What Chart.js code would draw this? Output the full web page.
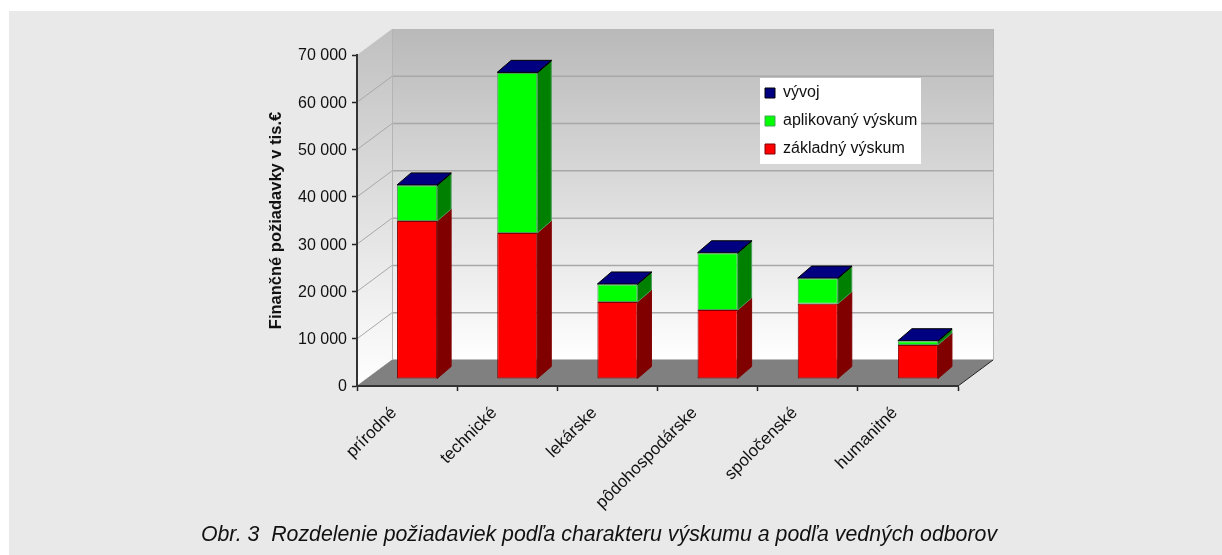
<!DOCTYPE html>
<html lang="sk">
<head>
<meta charset="utf-8">
<title>Rozdelenie požiadaviek</title>
<script src="https://cdn.jsdelivr.net/npm/chart.js@4"></script>
<style>
    html, body { margin: 0; padding: 0; background: #fff; overflow: hidden; }
    #panel { position: absolute; left: 9px; top: 11px; right: 0; bottom: 0; background: #e9e9e9; }
    #wrap { position: absolute; left: 0; top: 0; width: 1222px; height: 555px; }
</style>
</head>
<body>
<div id="panel"></div>
<div id="wrap"><canvas id="graf" width="1222" height="555"></canvas></div>
<script>
const odbory = ["prírodné", "technické", "lekárske", "pôdohospodárske", "spoločenské", "humanitné"];
const zakladny = [33400, 30900, 16300, 14600, 15900, 7200];
const aplikovany = [7500, 33800, 3700, 12000, 5350, 800];
const vyvoj = [150, 150, 100, 100, 100, 100];
const yTicks = [0, 10000, 20000, 30000, 40000, 50000, 60000, 70000];

const fontName = '"Liberation Sans", Arial, sans-serif';

// hlbka 3D sceny a stlpcov, v pixeloch
const wallDx = 35, wallDy = -26;
const barDx = 10, barDy = -7;
const sideDx = 14, sideDy = -12;

const sideColors = ["#800000", "#008000", "#000060"];

function poly(ctx, pts) {
    ctx.beginPath();
    pts.forEach((p, i) => i ? ctx.lineTo(p[0], p[1]) : ctx.moveTo(p[0], p[1]));
    ctx.closePath();
}

const scena3d = {
    id: "scena3d",
    afterLayout(chart) {
        // popisok je pod celym grafom, nie iba pod plochou osi
        const t = chart.titleBlock;
        t.left = 190;
        t.right = 1008;
        t.width = 818;
        // legenda v bielom ramceku
        const l = chart.legend;
        l.left = 753;
        l.right = 921;
        l.top = 73;
        l.bottom = 300;
    },
    beforeDraw(chart) {
        const { ctx, chartArea: a, scales } = chart;
        const top = a.top + wallDy, bottom = a.bottom + wallDy;

        const g = ctx.createLinearGradient(0, top, 0, bottom);
        g.addColorStop(0, "#b9b9b9");
        g.addColorStop(1, "#ffffff");
        ctx.fillStyle = g;
        ctx.fillRect(a.left + wallDx, top, a.width, a.height);

        const gs = ctx.createLinearGradient(0, top, 0, a.bottom);
        gs.addColorStop(0, "#c0c0c0");
        gs.addColorStop(1, "#ffffff");
        ctx.fillStyle = gs;
        poly(ctx, [[a.left, a.top], [a.left + wallDx, top], [a.left + wallDx, bottom], [a.left, a.bottom]]);
        ctx.fill();

        // mriezka po stene
        ctx.strokeStyle = "#a8a8a8";
        yTicks.forEach(v => {
            if (v === 70000) return;
            const y = scales.y.getPixelForValue(v);
            ctx.lineWidth = 1;
            ctx.beginPath();
            ctx.moveTo(a.left, y);
            ctx.lineTo(a.left + wallDx, y + wallDy);
            ctx.stroke();
            ctx.lineWidth = 1.5;
            ctx.beginPath();
            ctx.moveTo(a.left + wallDx, y + wallDy);
            ctx.lineTo(a.right + wallDx, y + wallDy);
            ctx.stroke();
        });
        ctx.lineWidth = 1;
        ctx.strokeStyle = "#b4b4b4";
        ctx.beginPath();
        ctx.moveTo(a.left + wallDx + 0.5, top);
        ctx.lineTo(a.left + wallDx + 0.5, bottom);
        ctx.moveTo(a.right + wallDx + 0.5, top);
        ctx.lineTo(a.right + wallDx + 0.5, bottom);
        ctx.stroke();

        // podlaha
        ctx.fillStyle = "#808080";
        poly(ctx, [[a.left, a.bottom], [a.left + wallDx, bottom], [a.right + wallDx, bottom], [a.right, a.bottom]]);
        ctx.fill();
        ctx.strokeStyle = "#222";
        ctx.beginPath();
        ctx.moveTo(a.right, a.bottom);
        ctx.lineTo(a.right + wallDx, bottom);
        ctx.stroke();

        ctx.fillStyle = "#ffffff";
        ctx.fillRect(760, 78, 161, 86);
    },
    beforeDatasetsDraw(chart) {
        const { ctx } = chart;
        ctx.save();
        ctx.translate(barDx, barDy);
        const last = chart.data.datasets.length - 1;
        chart.data.datasets.forEach((ds, i) => {
            chart.getDatasetMeta(i).data.forEach(bar => {
                const r = bar.x + bar.width / 2;
                poly(ctx, [[r, bar.base], [r + sideDx, bar.base + sideDy], [r + sideDx, bar.y + sideDy], [r, bar.y]]);
                ctx.fillStyle = sideColors[i];
                ctx.strokeStyle = ds.borderColor;
                ctx.lineWidth = 1;
                ctx.fill();
                ctx.stroke();
                if (i === last) {
                    const l = bar.x - bar.width / 2;
                    poly(ctx, [[l, bar.y], [l + sideDx, bar.y + sideDy], [r + sideDx, bar.y + sideDy], [r, bar.y]]);
                    ctx.fillStyle = ds.backgroundColor;
                    ctx.fill();
                    ctx.stroke();
                }
            });
        });
    },
    afterDatasetsDraw(chart) {
        chart.ctx.restore();
    }
};

new Chart(document.getElementById("graf"), {
    type: "bar",
    data: {
        labels: odbory,
        datasets: [
            { label: "základný výskum", data: zakladny, backgroundColor: "#ff0000", borderColor: "#800000" },
            { label: "aplikovaný výskum", data: aplikovany, backgroundColor: "#00ff00", borderColor: "#4a9f5a" },
            { label: "vývoj", data: vyvoj, backgroundColor: "#000080", borderColor: "#000000" }
        ].map(d => ({ ...d, borderWidth: 1, borderSkipped: false, clip: false, categoryPercentage: 0.4, barPercentage: 1 }))
    },
    options: {
        responsive: false,
        animation: false,
        layout: { autoPadding: false, padding: { left: 265, right: 264, top: 55, bottom: 7 } },
        plugins: {
            tooltip: { enabled: false },
            legend: {
                position: "chartArea",
                align: "start",
                reverse: true,
                labels: {
                    color: "#111",
                    boxWidth: 10,
                    boxHeight: 10,
                    padding: 12,
                    font: { family: fontName, size: 16 }
                }
            },
            title: {
                display: true,
                position: "bottom",
                text: "Obr. 3  Rozdelenie požiadaviek podľa charakteru výskumu a podľa vedných odborov",
                color: "#111",
                padding: 0,
                font: { family: fontName, size: 21.3, style: "italic", weight: "normal" }
            }
        },
        scales: {
            x: {
                stacked: true,
                offset: true,
                afterFit(s) { s.height = 136.4; },
                grid: { offset: true, drawOnChartArea: false, color: "#222", tickLength: 5, tickWidth: 1.5 },
                border: { color: "#333", width: 2 },
                ticks: {
                    autoSkip: false,
                    minRotation: 45,
                    maxRotation: 45,
                    padding: 12,
                    labelOffset: -13,
                    color: "#111",
                    font: { family: fontName, size: 17 }
                }
            },
            y: {
                stacked: true,
                min: 0,
                max: 70000,
                afterFit(s) { s.width = 92; },
                afterBuildTicks(s) { s.ticks = yTicks.map(v => ({ value: v })); },
                grid: { drawOnChartArea: false, color: "#222", tickLength: 5, tickWidth: 1.5 },
                border: { color: "#333", width: 2 },
                title: {
                    display: true,
                    text: "Finančné požiadavky v tis.€",
                    color: "#111",
                    padding: { top: 2, bottom: 0 },
                    font: { family: fontName, size: 16.5, weight: "bold" }
                },
                ticks: {
                    padding: 5,
                    labelOffset: 1,
                    color: "#111",
                    font: { family: fontName, size: 16 },
                    callback: v => String(v).replace(/\B(?=(\d{3})+$)/g, " ")
                }
            }
        }
    },
    plugins: [scena3d]
});
</script>
</body>
</html>
